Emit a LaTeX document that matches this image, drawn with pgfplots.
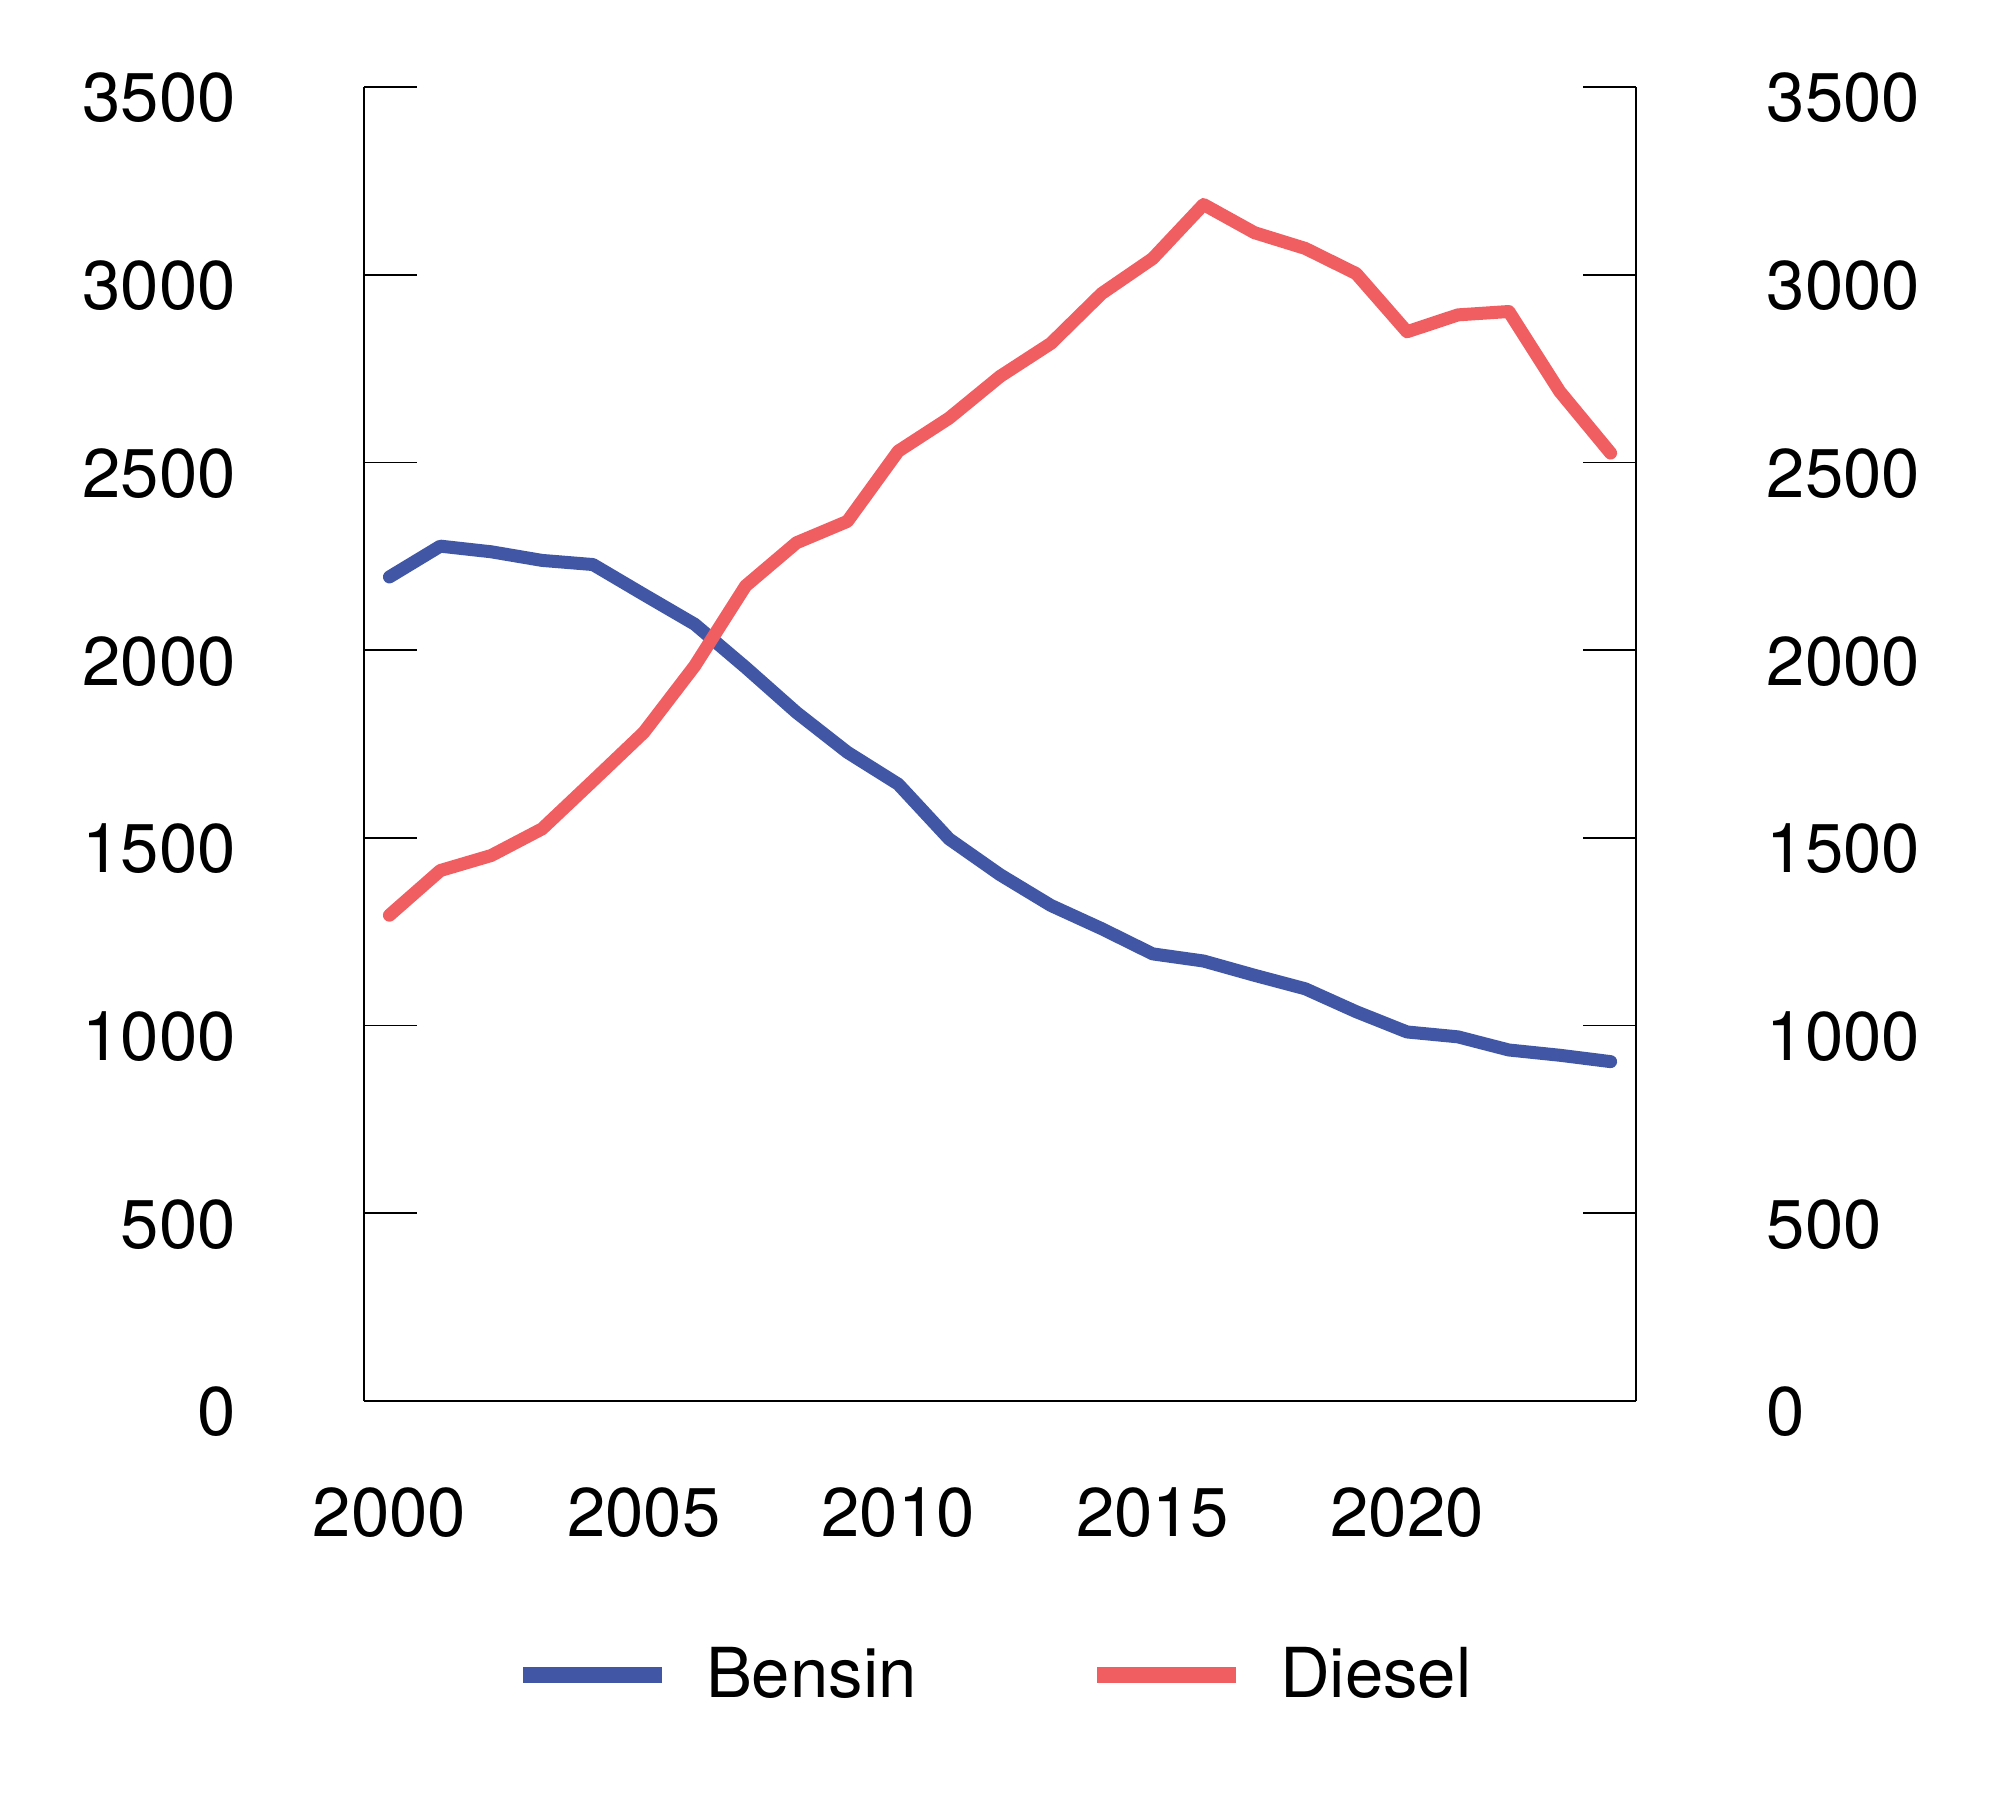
\documentclass[border=0pt]{standalone}
\usepackage{pgfplots}
\pgfplotsset{compat=1.18}
\usepackage{fontspec}
\setmainfont{TeX Gyre Heros}

\definecolor{bensin}{RGB}{65,87,166}
\definecolor{diesel}{RGB}{241,94,98}

\newcommand{\lbl}{\fontsize{19.6}{23}\selectfont}

\begin{document}
\begin{tikzpicture}
\pgfplotsset{
  base/.style={
    scale only axis,
    width=12.72cm, height=13.14cm,
    xmin=1999.5, xmax=2024.5,
    ymin=0, ymax=3500,
    ytick={0,500,...,3500},
    xtick={2000,2005,...,2020},
    /pgf/number format/1000 sep={},
    /pgf/number format/assume math mode=true,
    tick align=inside,
    major tick length=0.53cm,
    every axis/.append style={line width=0.5pt},
    tick style={black, line width=0.5pt},
    xtick style={draw=none},
    ticklabel style={font=\lbl, inner sep=0pt},
  },
}
\begin{axis}[
  base, name=ax,
  axis x line*=bottom, axis y line*=left,
  yticklabel style={anchor=east, xshift=-1.275cm, yshift=-0.11cm},
  xticklabel style={anchor=north, yshift=-0.86cm},
  legend style={draw=none, font=\lbl, at={(0.5,0)}, anchor=center,
    xshift=-0.065cm, yshift=-2.74cm, legend columns=2,
    /tikz/every odd column/.append style={column sep=0.36cm},
    /tikz/every even column/.append style={column sep=1.73cm},
    nodes={inner sep=0pt}},
  legend cell align=left,
  legend image code/.code={\draw[#1, line width=0.155cm, line cap=butt] (0cm,0cm) -- (1.39cm,0cm);},
]
\addplot[bensin, line width=0.13cm, line cap=round, line join=round] coordinates {
(2000,2195) (2001,2277) (2002,2262) (2003,2239) (2004,2228)
(2005,2148) (2006,2069) (2007,1954) (2008,1834) (2009,1728)
(2010,1643) (2011,1497) (2012,1402) (2013,1320) (2014,1258)
(2015,1191) (2016,1172) (2017,1134) (2018,1098) (2019,1037)
(2020,983) (2021,970) (2022,935) (2023,921) (2024,904)
};
\addlegendentry{Bensin}
\addplot[diesel, line width=0.13cm, line cap=round, line join=round] coordinates {
(2000,1294) (2001,1413) (2002,1453) (2003,1524) (2004,1652)
(2005,1781) (2006,1958) (2007,2171) (2008,2286) (2009,2343)
(2010,2530) (2011,2618) (2012,2729) (2013,2817) (2014,2950)
(2015,3043) (2016,3187) (2017,3112) (2018,3070) (2019,3003)
(2020,2848) (2021,2893) (2022,2902) (2023,2689) (2024,2525)
};
\addlegendentry{Diesel}
\end{axis}
\begin{axis}[
  base,
  axis x line=none, axis y line*=right,
  yticklabel style={anchor=west, xshift=1.30cm, yshift=-0.11cm},
]
\end{axis}
\path ([xshift=-3.64cm,yshift=-4.15cm]ax.south west) rectangle ([xshift=3.64cm,yshift=0.87cm]ax.north east);
\end{tikzpicture}
\end{document}
